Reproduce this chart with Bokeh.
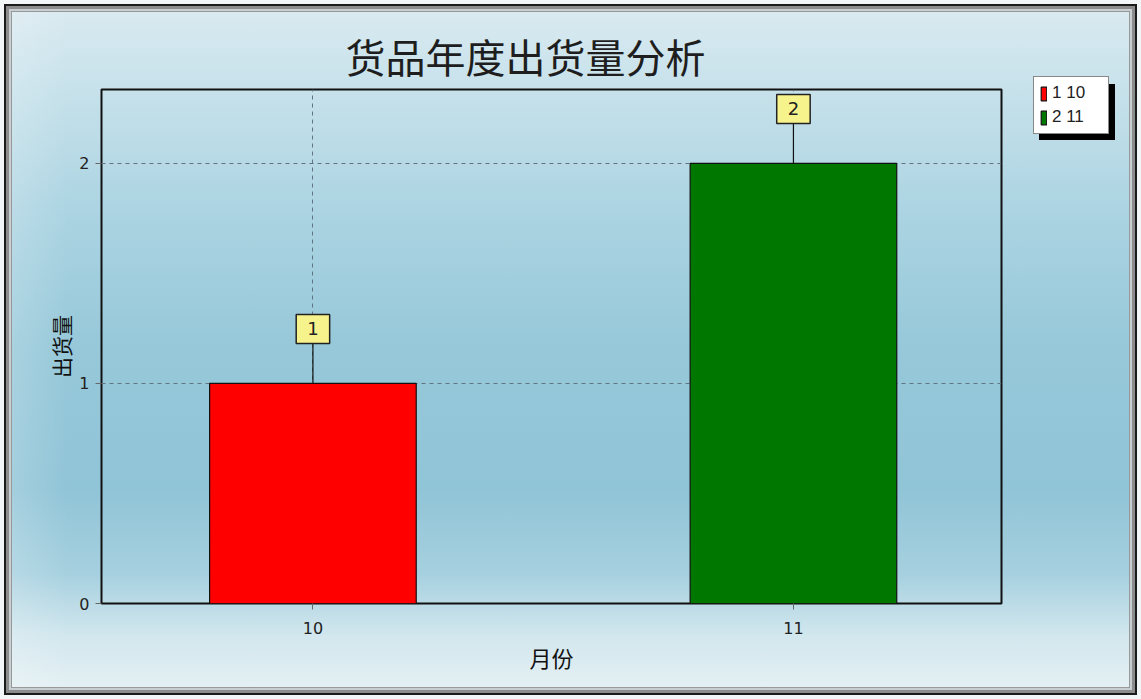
from bokeh.plotting import figure
from bokeh.layouts import row
from bokeh.models import (ColumnDataSource, Range1d, FixedTicker, Label, Legend,
                          LegendItem)
from bokeh.embed import file_html
from bokeh.resources import INLINE

# ---- data ----
months = ["10", "11"]
shipments = [1, 2]
series_names = ["1 10", "2 11"]
bar_colors = ["#ff0000", "#007800"]
title_text = "货品年度出货量分析"
x_title = "月份"
y_title = "出货量"
y_ticks = [0, 1, 2]

W, H = 1141, 699
W1 = 1010                # main chart panel width
W2 = W - W1              # legend panel width
ML, MT = 101, 89
FR, FB = 1001, 603
MR, MB = W1 - FR, H - FB
frame_h = FB - MT
y_end = 2.336
stem = 40 / (frame_h / y_end)

xs = list(range(len(months)))
src = ColumnDataSource(dict(
    x=xs, top=shipments, color=bar_colors, name=series_names,
    stem_top=[v + stem for v in shipments],
))

p = figure(width=W1, height=H, output_backend="svg", toolbar_location=None,
           x_range=Range1d(-0.44, 1.433), y_range=Range1d(0, y_end),
           min_border_left=ML, min_border_right=MR, min_border_top=MT,
           min_border_bottom=MB)
p.frame_align = False
p.border_fill_alpha = 0
p.background_fill_alpha = 0
p.outline_line_color = "#111111"
p.outline_line_width = 2

# title
p.title.text = title_text
p.title.align = "left"
p.title.offset = 244
p.title.text_font = "Noto Sans CJK SC"
p.title.text_font_size = "40px"
p.title.text_font_style = "normal"
p.title.text_color = "#1e1e1e"
p.title.standoff = 9

# bars
bars = p.vbar(x="x", top="top", width=0.43, bottom=0, source=src,
              fill_color="color", line_color="#111111", line_width=1.2)

# stems + value labels
p.segment(x0="x", y0="top", x1="x", y1="stem_top", source=src,
          line_color="#111111", line_width=1.2)
for xi, v in zip(xs, shipments):
    p.add_layout(Label(x=xi, y=v, text=str(v), y_offset=40,
                       text_align="center", text_baseline="bottom",
                       text_font="DejaVu Sans", text_font_size="18px",
                       text_color="#222222",
                       background_fill_color="#f7f38c", border_line_color="#222222",
                       border_line_width=1.5,
                       padding=dict(left=11, right=11, top=8, bottom=8)))

# axes
p.xaxis.ticker = FixedTicker(ticks=xs)
p.xaxis.major_label_overrides = {i: m for i, m in enumerate(months)}
p.yaxis.ticker = FixedTicker(ticks=y_ticks)
for ax in (p.xaxis[0], p.yaxis[0]):
    ax.axis_line_color = None
    ax.major_tick_in = 0
    ax.major_tick_out = 6
    ax.major_tick_line_color = "#666666"
    ax.minor_tick_line_color = None
    ax.major_label_text_font = "DejaVu Sans"
    ax.major_label_text_font_size = "16px"
    ax.major_label_text_color = "#222222"
    ax.axis_label_text_font = "Noto Sans CJK SC"
    ax.axis_label_text_font_style = "normal"
    ax.axis_label_text_color = "#111111"
p.xaxis.major_label_standoff = 12
p.yaxis.major_label_standoff = 6
p.xaxis.axis_label = x_title
p.yaxis.axis_label = y_title
p.xaxis.axis_label_text_font_size = "22px"
p.yaxis.axis_label_text_font_size = "21px"
p.xaxis.axis_label_standoff = 4
p.yaxis.axis_label_standoff = 0

p.grid.grid_line_color = "#5f7480"
p.grid.grid_line_dash = "4 4"
p.grid.grid_line_width = 1
p.xgrid.ticker = FixedTicker(ticks=xs)
p.ygrid.ticker = FixedTicker(ticks=y_ticks)

# ---- legend panel (to the right of the chart) ----
q = figure(width=W2, height=H, output_backend="svg", toolbar_location=None,
           x_range=Range1d(20, 21), y_range=Range1d(20, 21),
           x_axis_location=None, y_axis_location=None,
           min_border=0)
q.frame_align = False
q.border_fill_alpha = 0
q.background_fill_alpha = 0
q.outline_line_color = None
q.grid.visible = False
lbars = q.vbar(x="x", top="top", width=0.43, bottom=0, source=src,
               fill_color="color", line_color="#111111", line_width=1.2)

common = dict(label_text_font="Liberation Sans", label_text_font_size="17px",
              glyph_width=7, glyph_height=17, label_standoff=5, padding=6,
              spacing=4, margin=0, border_line_width=1.5, label_height=19,
              label_width=50)
lx, ly = 1033 - W1, H - 134
shadow = Legend(items=[LegendItem(label=" ", renderers=[lbars], index=i) for i, n in enumerate(series_names)],
                location=(lx + 6, ly - 6), background_fill_color="#000000",
                background_fill_alpha=1, border_line_color="#000000",
                label_text_color="#000000", **common)
legend = Legend(items=[LegendItem(label=n, renderers=[lbars], index=i) for i, n in enumerate(series_names)],
                location=(lx, ly), background_fill_color="#ffffff",
                background_fill_alpha=1, border_line_color="#111111",
                label_text_color="#222222", **common)
q.add_layout(shadow)
q.add_layout(legend)

layout = row(p, q, spacing=0)
layout.styles = {
    "background-image": "linear-gradient(to right, rgba(255,255,255,0.22) 0%, rgba(255,255,255,0) 6%), "
                        "linear-gradient(to bottom, #dcebf1 0%, #c8e2eb 12%, #acd4e2 30%, #96c8d9 50%, #90c4d7 70%, #a6d0df 82%, #d2e7ee 91%, #e8f2f5 100%)",
    "box-shadow": "inset 0 0 0 4px #f2f6f7, inset 0 0 0 6px #1a1a1a, inset 0 0 0 9px #8c8c8c, inset 0 0 0 11px #c8cfd2, inset 0 0 0 12px #999999",
}

open("out.html", "w").write(file_html(layout, INLINE))
